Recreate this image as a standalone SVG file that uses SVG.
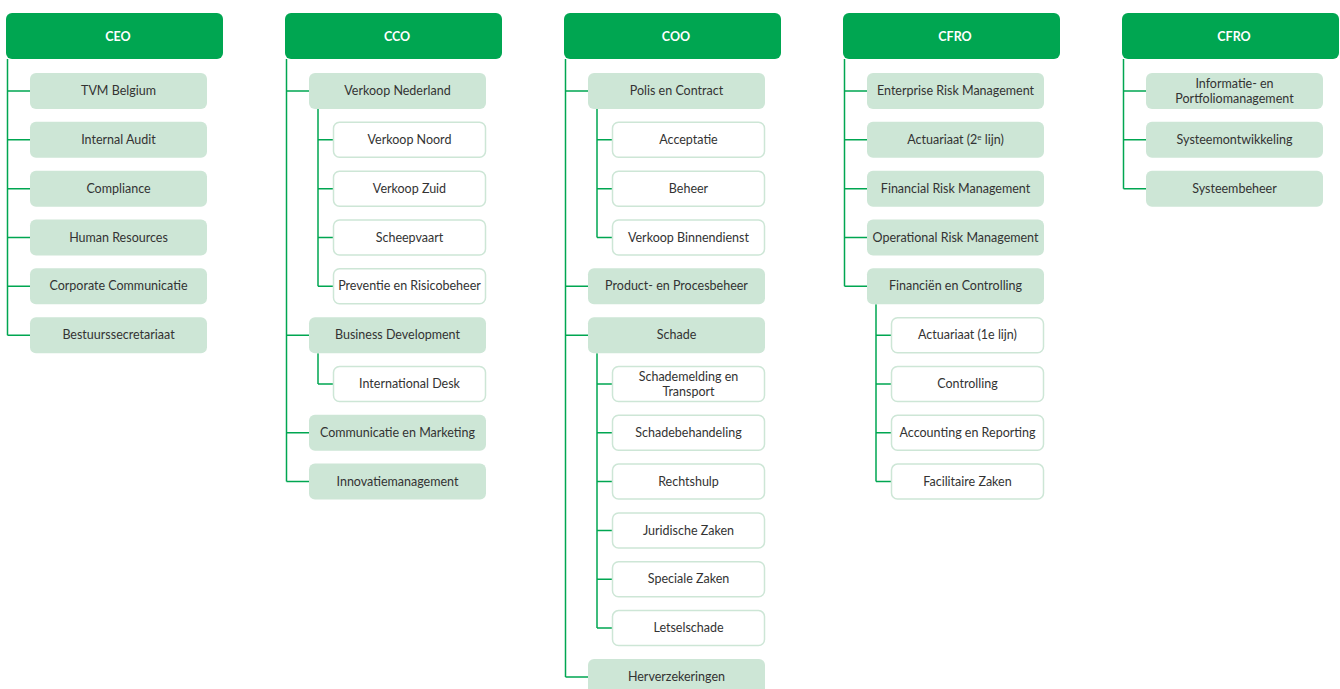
<svg xmlns="http://www.w3.org/2000/svg" width="1340" height="689" viewBox="0 0 1340 689">
<style>
.h{fill:#00a651}
.l1{fill:#cde6d6}
.l2{fill:#ffffff;stroke:#cde6d6;stroke-width:1.5}
.ht{font-family:Lato,"Open Sans",sans-serif;font-size:12.5px;font-weight:bold;fill:#ffffff;text-anchor:middle}
.t{font-family:Lato,"Open Sans",sans-serif;font-size:12.5px;fill:#333333;text-anchor:middle}
.c{fill:none;stroke:#00a651;stroke-width:1.5}
</style>
<rect width="1340" height="689" fill="#ffffff"/>
<g id="connectors">
<path class="c" d="M7.5 59V335.2M7.5 91H30M7.5 139.8H30M7.5 188.7H30M7.5 237.5H30M7.5 286.3H30M7.5 335.2H30"/>
<path class="c" d="M286.5 59V481.6M286.5 91H309M286.5 335.2H309M286.5 432.8H309M286.5 481.6H309"/>
<path class="c" d="M318 109V286.3M318 139.8H333M318 188.7H333M318 237.5H333M318 286.3H333M318 353.2V384M318 384H333"/>
<path class="c" d="M565.5 59V677M565.5 91H588M565.5 286.3H588M565.5 335.2H588M565.5 677H588"/>
<path class="c" d="M597 109V237.5M597 139.8H612M597 188.7H612M597 237.5H612M597 353.2V628.1M597 384H612M597 432.8H612M597 481.6H612M597 530.5H612M597 579.3H612M597 628.1H612"/>
<path class="c" d="M844.5 59V286.3M844.5 91H867M844.5 139.8H867M844.5 188.7H867M844.5 237.5H867M844.5 286.3H867"/>
<path class="c" d="M876 304.3V481.6M876 335.2H891M876 384H891M876 432.8H891M876 481.6H891"/>
<path class="c" d="M1123.5 59V188.7M1123.5 91H1146M1123.5 139.8H1146M1123.5 188.7H1146"/>
</g>
<g id="ceo"><rect class="h" x="6" y="13" width="217" height="46" rx="6"/><text class="ht" x="118" y="40.5">CEO</text></g>
<g id="cco"><rect class="h" x="285" y="13" width="217" height="46" rx="6"/><text class="ht" x="397" y="40.5">CCO</text></g>
<g id="coo"><rect class="h" x="564" y="13" width="217" height="46" rx="6"/><text class="ht" x="676" y="40.5">COO</text></g>
<g id="cfro1"><rect class="h" x="843" y="13" width="217" height="46" rx="6"/><text class="ht" x="955" y="40.5">CFRO</text></g>
<g id="cfro2"><rect class="h" x="1122" y="13" width="217" height="46" rx="6"/><text class="ht" x="1234" y="40.5">CFRO</text></g>

<g id="tvm-belgium"><rect class="l1" x="30" y="73" width="177" height="36" rx="6"/><text class="t" x="118.5" y="95">TVM Belgium</text></g>
<g id="internal-audit"><rect class="l1" x="30" y="121.8" width="177" height="36" rx="6"/><text class="t" x="118.5" y="143.8">Internal Audit</text></g>
<g id="compliance"><rect class="l1" x="30" y="170.7" width="177" height="36" rx="6"/><text class="t" x="118.5" y="192.7">Compliance</text></g>
<g id="human-resources"><rect class="l1" x="30" y="219.5" width="177" height="36" rx="6"/><text class="t" x="118.5" y="241.5">Human Resources</text></g>
<g id="corporate-communicatie"><rect class="l1" x="30" y="268.3" width="177" height="36" rx="6"/><text class="t" x="118.5" y="290.3">Corporate Communicatie</text></g>
<g id="bestuurssecretariaat"><rect class="l1" x="30" y="317.2" width="177" height="36" rx="6"/><text class="t" x="118.5" y="339.2">Bestuurssecretariaat</text></g>

<g id="verkoop-nederland"><rect class="l1" x="309" y="73" width="177" height="36" rx="6"/><text class="t" x="397.5" y="95">Verkoop Nederland</text></g>
<g id="verkoop-noord"><rect class="l2" x="333.5" y="122.3" width="152" height="35" rx="6"/><text class="t" x="409.5" y="143.8">Verkoop Noord</text></g>
<g id="verkoop-zuid"><rect class="l2" x="333.5" y="171.2" width="152" height="35" rx="6"/><text class="t" x="409.5" y="192.7">Verkoop Zuid</text></g>
<g id="scheepvaart"><rect class="l2" x="333.5" y="220" width="152" height="35" rx="6"/><text class="t" x="409.5" y="241.5">Scheepvaart</text></g>
<g id="preventie"><rect class="l2" x="333.5" y="268.8" width="152" height="35" rx="6"/><text class="t" x="409.5" y="290.3">Preventie en Risicobeheer</text></g>
<g id="business-development"><rect class="l1" x="309" y="317.2" width="177" height="36" rx="6"/><text class="t" x="397.5" y="339.2">Business Development</text></g>
<g id="international-desk"><rect class="l2" x="333.5" y="366.5" width="152" height="35" rx="6"/><text class="t" x="409.5" y="388">International Desk</text></g>
<g id="communicatie-marketing"><rect class="l1" x="309" y="414.8" width="177" height="36" rx="6"/><text class="t" x="397.5" y="436.8">Communicatie en Marketing</text></g>
<g id="innovatiemanagement"><rect class="l1" x="309" y="463.6" width="177" height="36" rx="6"/><text class="t" x="397.5" y="485.6">Innovatiemanagement</text></g>

<g id="polis-contract"><rect class="l1" x="588" y="73" width="177" height="36" rx="6"/><text class="t" x="676.5" y="95">Polis en Contract</text></g>
<g id="acceptatie"><rect class="l2" x="612.5" y="122.3" width="152" height="35" rx="6"/><text class="t" x="688.5" y="143.8">Acceptatie</text></g>
<g id="beheer"><rect class="l2" x="612.5" y="171.2" width="152" height="35" rx="6"/><text class="t" x="688.5" y="192.7">Beheer</text></g>
<g id="verkoop-binnendienst"><rect class="l2" x="612.5" y="220" width="152" height="35" rx="6"/><text class="t" x="688.5" y="241.5">Verkoop Binnendienst</text></g>
<g id="product-procesbeheer"><rect class="l1" x="588" y="268.3" width="177" height="36" rx="6"/><text class="t" x="676.5" y="290.3">Product- en Procesbeheer</text></g>
<g id="schade"><rect class="l1" x="588" y="317.2" width="177" height="36" rx="6"/><text class="t" x="676.5" y="339.2">Schade</text></g>
<g id="schademelding"><rect class="l2" x="612.5" y="366.5" width="152" height="35" rx="6"/><text class="t" x="688.5" y="380.5">Schademelding en</text><text class="t" x="688.5" y="395.5">Transport</text></g>
<g id="schadebehandeling"><rect class="l2" x="612.5" y="415.3" width="152" height="35" rx="6"/><text class="t" x="688.5" y="436.8">Schadebehandeling</text></g>
<g id="rechtshulp"><rect class="l2" x="612.5" y="464.1" width="152" height="35" rx="6"/><text class="t" x="688.5" y="485.6">Rechtshulp</text></g>
<g id="juridische-zaken"><rect class="l2" x="612.5" y="513" width="152" height="35" rx="6"/><text class="t" x="688.5" y="534.5">Juridische Zaken</text></g>
<g id="speciale-zaken"><rect class="l2" x="612.5" y="561.8" width="152" height="35" rx="6"/><text class="t" x="688.5" y="583.3">Speciale Zaken</text></g>
<g id="letselschade"><rect class="l2" x="612.5" y="610.6" width="152" height="35" rx="6"/><text class="t" x="688.5" y="632.1">Letselschade</text></g>
<g id="herverzekeringen"><rect class="l1" x="588" y="659" width="177" height="36" rx="6"/><text class="t" x="676.5" y="681">Herverzekeringen</text></g>

<g id="enterprise-risk"><rect class="l1" x="867" y="73" width="177" height="36" rx="6"/><text class="t" x="955.5" y="95">Enterprise Risk Management</text></g>
<g id="actuariaat-2"><rect class="l1" x="867" y="121.8" width="177" height="36" rx="6"/><text class="t" x="955.5" y="143.8">Actuariaat (2<tspan font-size="8" dy="-4">e</tspan><tspan dy="4"> lijn)</tspan></text></g>
<g id="financial-risk"><rect class="l1" x="867" y="170.7" width="177" height="36" rx="6"/><text class="t" x="955.5" y="192.7">Financial Risk Management</text></g>
<g id="operational-risk"><rect class="l1" x="867" y="219.5" width="177" height="36" rx="6"/><text class="t" x="955.5" y="241.5">Operational Risk Management</text></g>
<g id="financien-controlling"><rect class="l1" x="867" y="268.3" width="177" height="36" rx="6"/><text class="t" x="955.5" y="290.3">Financiën en Controlling</text></g>
<g id="actuariaat-1"><rect class="l2" x="891.5" y="317.7" width="152" height="35" rx="6"/><text class="t" x="967.5" y="339.2">Actuariaat (1e lijn)</text></g>
<g id="controlling"><rect class="l2" x="891.5" y="366.5" width="152" height="35" rx="6"/><text class="t" x="967.5" y="388">Controlling</text></g>
<g id="accounting-reporting"><rect class="l2" x="891.5" y="415.3" width="152" height="35" rx="6"/><text class="t" x="967.5" y="436.8">Accounting en Reporting</text></g>
<g id="facilitaire-zaken"><rect class="l2" x="891.5" y="464.1" width="152" height="35" rx="6"/><text class="t" x="967.5" y="485.6">Facilitaire Zaken</text></g>

<g id="informatie-portfolio"><rect class="l1" x="1146" y="73" width="177" height="36" rx="6"/><text class="t" x="1234.5" y="87.5">Informatie- en</text><text class="t" x="1234.5" y="102.5">Portfoliomanagement</text></g>
<g id="systeemontwikkeling"><rect class="l1" x="1146" y="121.8" width="177" height="36" rx="6"/><text class="t" x="1234.5" y="143.8">Systeemontwikkeling</text></g>
<g id="systeembeheer"><rect class="l1" x="1146" y="170.7" width="177" height="36" rx="6"/><text class="t" x="1234.5" y="192.7">Systeembeheer</text></g>
</svg>
